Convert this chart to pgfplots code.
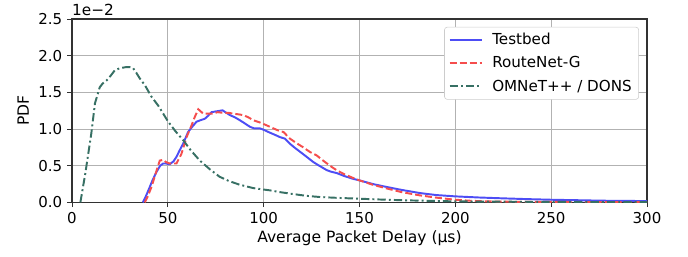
\documentclass[border=0pt]{standalone}
\usepackage{fontspec}
\setmainfont{DejaVu Sans}
\usepackage{pgfplots}
\pgfplotsset{compat=1.18}
\definecolor{cblue}{RGB}{77,77,245}
\definecolor{cred}{RGB}{245,77,77}
\definecolor{cteal}{RGB}{55,112,100}
\definecolor{spine}{RGB}{50,50,50}
\begin{document}
\begin{tikzpicture}
\begin{axis}[
  name=ax,
  scale only axis,
  width=414pt, height=132pt,
  xmin=0, xmax=300, ymin=0, ymax=2.5,
  xtick={0,50,100,150,200,250,300},
  ytick={0,0.5,1,1.5,2,2.5},
  yticklabel style={/pgf/number format/fixed,/pgf/number format/fixed zerofill,/pgf/number format/precision=1},
  /pgf/number format/assume math mode=true,
  tick label style={font=\fontsize{10.8}{13}\selectfont},
  label style={font=\fontsize{11.2}{13.5}\selectfont},
  tick align=outside, tick pos=left,
  major tick length=3.5pt,
  tick style={spine, line width=0.6pt},
  axis line style={spine, line width=0.8pt},
  grid=major,
  grid style={color=black!30, line width=0.6pt},
  xlabel={Average Packet Delay (µs)},
  ylabel={PDF},
  xlabel style={yshift=2pt},
  ylabel style={yshift=0pt},
  legend style={at={(0.986,0.957)}, anchor=north east, draw=black!20, rounded corners=2pt, font=\fontsize{10.9}{13}\selectfont, row sep=3pt, inner xsep=3pt, inner ysep=2.5pt},
  legend cell align=left,
  legend image code/.code={\draw[#1] (0cm,0cm) -- (23pt,0cm); \path (28pt,0pt);},
]
\addplot[cblue, line width=1.4pt] coordinates {
(37,0) (38.5,0.08) (40.6,0.21) (42,0.3)(44,0.41)(46,0.5)(47.6,0.53)(49,0.53)(51,0.52)(53,0.56)(54.5,0.62)(56,0.7)(58,0.80)(60.6,0.96)(63,1.04)(65,1.10)(67,1.12)(69.3,1.14)(71,1.18)(72.8,1.23)(75,1.24)(78.6,1.255)(80,1.23)(82.4,1.19)(85,1.16)(87.6,1.12)(90,1.08)(92.9,1.03)(95,1.01)(98,1.01)(100,0.99)(103.3,0.95)(106,0.92)(108.5,0.89)(111,0.87)(113.7,0.80)(116,0.75)(119,0.69)(122,0.63)(125.9,0.55)(129,0.50)(132.9,0.44)(135,0.42)(138.1,0.40)(142,0.36)(146.8,0.32)(150,0.30)(157,0.25)(164.2,0.21)(172,0.17)(181.6,0.127)(190,0.10)(200,0.082)(212,0.067)(224.9,0.055)(237,0.045)(250,0.036)(263,0.03)(277,0.023)(290,0.02)(300,0.018)
};
\addlegendentry{Testbed}
\addplot[cred, line width=1.4pt, dash pattern=on 5pt off 2.2pt] coordinates {
(38,0)(39.5,0.08)(41.5,0.21)(43.5,0.38)(45.8,0.57)(47.6,0.58)(49,0.55)(51,0.53)(54.5,0.53)(57.1,0.66)(59.8,0.89)(62.4,1.05)(64,1.16)(65.9,1.27)(68.5,1.21)(71,1.21)(73.7,1.21)(76,1.23)(79,1.22)(82,1.22)(84.1,1.21)(87,1.20)(89.4,1.19)(92,1.16)(94.6,1.12)(98,1.09)(101.6,1.05)(105,1.01)(108.5,0.97)(110.3,0.96)(113.7,0.87)(117,0.81)(120.7,0.75)(124,0.69)(127.7,0.64)(131,0.57)(134.6,0.50)(138,0.44)(141.6,0.39)(146,0.34)(150,0.30)(157,0.24)(164.2,0.19)(172,0.14)(181.6,0.095)(190,0.065)(200,0.036)(208,0.022)(216,0.014)(230,0.008)(250,0.006)(275,0.005)(300,0.004)
};
\addlegendentry{RouteNet-G}
\addplot[cteal, line width=1.4pt, dash pattern=on 6pt off 2.2pt on 1.4pt off 2.2pt] coordinates {
(4.4,0)(7,0.4)(10.1,0.94)(12,1.35)(14.5,1.57)(16,1.62)(18,1.66)(20,1.72)(22.3,1.8)(25,1.83)(28.4,1.845)(30,1.845)(31.9,1.83)(33.5,1.77)(35.4,1.69)(38,1.60)(41.5,1.44)(45,1.32)(50.2,1.10)(54,0.97)(58,0.85)(62,0.71)(66.7,0.57)(72,0.45)(77,0.35)(82,0.29)(87.6,0.24)(94.6,0.195)(100,0.175)(103.3,0.164)(108.5,0.14)(115,0.115)(122,0.09)(129.4,0.073)(140,0.06)(150,0.05)(163,0.037)(176,0.027)(188,0.02)(200,0.014)(220,0.01)(250,0.007)(275,0.005)(300,0.004)
};
\addlegendentry{OMNeT++ / DONS}
\end{axis}
\node[anchor=south west, inner sep=0pt, font=\fontsize{11}{13}\selectfont] at ([yshift=2.5pt]ax.north west) {1e−2};
\pgfresetboundingbox
\useasboundingbox ([xshift=-51.8pt,yshift=-38.9pt]ax.south west) rectangle ([xshift=29.5pt,yshift=13.7pt]ax.north east);
\end{tikzpicture}
\end{document}
